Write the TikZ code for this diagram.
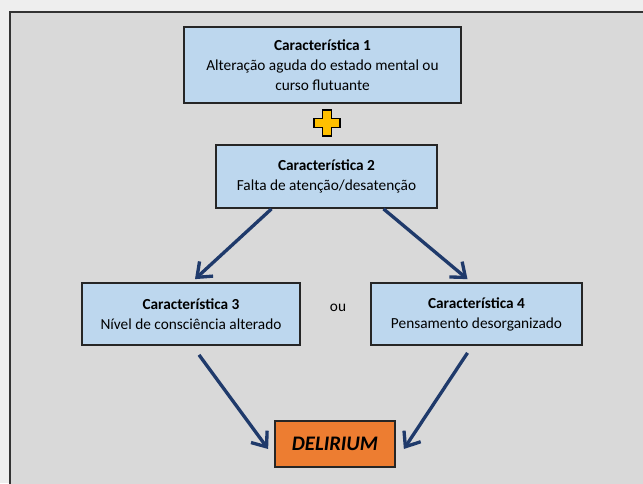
\documentclass[tikz,border=0pt]{standalone}
\usepackage{fontspec}
\setmainfont{Carlito}
\usetikzlibrary{arrows.meta,calc}
\definecolor{panel}{HTML}{D9D9D9}
\definecolor{outside}{HTML}{EEEEEE}
\definecolor{boxblue}{HTML}{BDD7EE}
\definecolor{delorange}{HTML}{ED7D31}
\definecolor{arrownavy}{HTML}{1F3A6B}
\definecolor{plusgold}{HTML}{FFC000}
\begin{document}
\begin{tikzpicture}[x=0.75pt,y=-0.75pt,
  featbox/.style={draw=black!85, line width=1.3pt, fill=boxblue, align=center,
    font=\fontsize{11.5}{15}\selectfont, inner sep=0pt},
  resultbox/.style={draw=black!85, line width=1.3pt, fill=delorange, align=center,
    font=\fontsize{15.5}{17}\selectfont\bfseries\itshape, inner sep=0pt},
  flow/.style={draw=arrownavy, line width=2.5pt,
    -{Straight Barb[length=9.5pt,width=15pt,line width=2.5pt]}}]
  \useasboundingbox (0,0) rectangle (643,483);
  \clip (0,0) rectangle (643,483);
  % page and panel
  \fill[outside] (0,0) rectangle (643,483);
  \draw[black!80, line width=1.4pt, fill=panel] (10,12) rectangle (700,540);

  % feature boxes
  \node[featbox, minimum width=277*0.75pt, minimum height=76*0.75pt] (c1) at (322.5,65)
    {\textbf{Característica 1}\\Alteração aguda do estado mental ou\\curso flutuante};
  \node[featbox, minimum width=221*0.75pt, minimum height=63*0.75pt] (c2) at (326.5,176.5)
    {\textbf{Característica 2}\\Falta de atenção/desatenção};
  \node[featbox, minimum width=218*0.75pt, minimum height=62*0.75pt] (c3) at (191,314)
    {\textbf{Característica 3}\\Nível de consciência alterado};
  \node[featbox, minimum width=211*0.75pt, minimum height=62*0.75pt] (c4) at (476.5,314)
    {\textbf{Característica 4}\\Pensamento desorganizado};
  \node[font=\fontsize{11.5}{13}\selectfont] (ou) at (338,308) {ou};

  % outcome
  \node[resultbox, minimum width=120*0.75pt, minimum height=46*0.75pt] (del) at (335,444) {DELIRIUM};

  % plus sign between the first two features
  \node[inner sep=0pt, minimum size=0pt] (plus) at (327,123) {};
  \filldraw[fill=plusgold, draw=black, line width=1.2pt]
    ($(plus)+(-4.5,-13)$) -- ++(9,0) -- ++(0,8.5) -- ++(8.5,0) -- ++(0,9) -- ++(-8.5,0)
    -- ++(0,8.5) -- ++(-9,0) -- ++(0,-8.5) -- ++(-8.5,0) -- ++(0,-9) -- ++(8.5,0) -- cycle;

  % connectors
  \coordinate (c2l) at ([xshift=-55*0.75pt]c2.south);
  \coordinate (c2r) at ([xshift=57*0.75pt]c2.south);
  \coordinate (c3t) at ([xshift=4*0.75pt]c3.north);
  \coordinate (c4t) at ([xshift=-9*0.75pt]c4.north);
  \coordinate (c3b) at ([xshift=8*0.75pt,yshift=-9*0.75pt]c3.south);
  \coordinate (c4b) at ([xshift=-9*0.75pt,yshift=-7*0.75pt]c4.south);
  \draw[flow] (c2l) -- ([yshift=3*0.75pt]c3t);
  \draw[flow] (c2r) -- ([yshift=3*0.75pt]c4t);
  \draw[flow] (c3b) -- ([xshift=-6*0.75pt,yshift=-5*0.75pt]del.west);
  \draw[flow] (c4b) -- ([xshift=8*0.75pt,yshift=-5*0.75pt]del.east);
\end{tikzpicture}
\end{document}
